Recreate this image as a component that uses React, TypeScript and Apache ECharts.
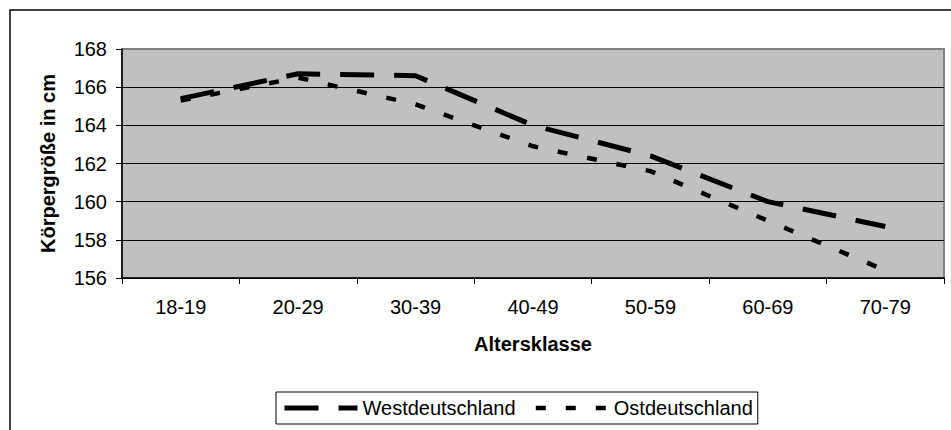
import React, { useEffect, useRef } from "react";
import * as echarts from "echarts";

const categories = ["18-19", "20-29", "30-39", "40-49", "50-59", "60-69", "70-79"];
const westValues = [165.4, 166.7, 166.6, 164.0, 162.4, 160.0, 158.7];
const eastValues = [165.3, 166.5, 165.1, 162.9, 161.6, 159.0, 156.4];
const yMin = 156;
const yMax = 168;
const yInterval = 2;

export default function App() {
  const ref = useRef<HTMLDivElement>(null);
  useEffect(() => {
    if (!ref.current) return;
    const chart = echarts.init(ref.current, null, { renderer: "svg" });
    const font = "Liberation Sans, Arial, sans-serif";
    const westLine = { color: "#000000", width: 5, type: [34, 20] };
    const eastLine = { color: "#000000", width: 4.5, type: [10, 20] };
    const hiddenSymbol = { color: "rgba(0,0,0,0)", borderWidth: 0, opacity: 0 };
    chart.setOption({
      animation: false,
      backgroundColor: "#ffffff",
      textStyle: { fontFamily: font },
      graphic: [
        {
          type: "rect",
          shape: { x: 10, y: 10, width: 1000, height: 500 },
          style: { fill: "none", stroke: "#000000", lineWidth: 1.5 },
          z: -10,
          silent: true,
        },
      ],
      grid: {
        left: 122,
        right: 7,
        top: 49,
        bottom: 152,
        show: true,
        backgroundColor: "#C0C0C0",
        borderColor: "#808080",
        borderWidth: 2,
      },
      legend: {
        left: 276,
        top: 392,
        orient: "horizontal",
        itemWidth: 73,
        itemHeight: 14,
        itemGap: 18,
        padding: [6, 5, 6, 6],
        borderColor: "#000000",
        borderWidth: 1,
        backgroundColor: "#ffffff",
        textStyle: { fontSize: 20, color: "#000000", fontFamily: font },
        data: [
          { name: "Westdeutschland", lineStyle: westLine, itemStyle: hiddenSymbol },
          { name: "Ostdeutschland", lineStyle: eastLine, itemStyle: hiddenSymbol },
        ],
      },
      xAxis: {
        type: "category",
        data: categories,
        boundaryGap: true,
        name: "Altersklasse",
        nameLocation: "middle",
        nameGap: 56,
        nameTextStyle: { fontSize: 20, fontWeight: "bold", color: "#000000", fontFamily: font },
        axisLine: { show: true, lineStyle: { color: "#000000", width: 1.5 } },
        axisTick: { show: true, length: 6, lineStyle: { color: "#000000" } },
        axisLabel: { fontSize: 20, color: "#000000", margin: 19, fontFamily: font },
        splitLine: { show: false },
      },
      yAxis: {
        type: "value",
        min: yMin,
        max: yMax,
        interval: yInterval,
        name: "Körpergröße in cm",
        nameLocation: "middle",
        nameRotate: 90,
        nameGap: 64,
        nameTextStyle: { fontSize: 20, fontWeight: "bold", color: "#000000", fontFamily: font },
        axisLine: { show: true, lineStyle: { color: "#000000", width: 1.5 } },
        axisTick: { show: true, length: 6, lineStyle: { color: "#000000" } },
        axisLabel: { fontSize: 20, color: "#000000", margin: 15, fontFamily: font },
        splitLine: {
          show: true,
          lineStyle: {
            color: ["#000000", "#000000", "#000000", "#000000", "#000000", "#000000", "#808080"],
            width: 1,
          },
        },
      },
      series: [
        {
          name: "Westdeutschland",
          type: "line",
          data: westValues,
          symbol: "none",
          smooth: false,
          lineStyle: westLine,
          itemStyle: { color: "#000000" },
        },
        {
          name: "Ostdeutschland",
          type: "line",
          data: eastValues,
          symbol: "none",
          smooth: false,
          lineStyle: eastLine,
          itemStyle: { color: "#000000" },
        },
      ],
    });
    return () => chart.dispose();
  }, []);
  return (
    <div
      ref={ref}
      style={{ position: "absolute", left: 0, top: 0, width: 951, height: 430 }}
    />
  );
}
